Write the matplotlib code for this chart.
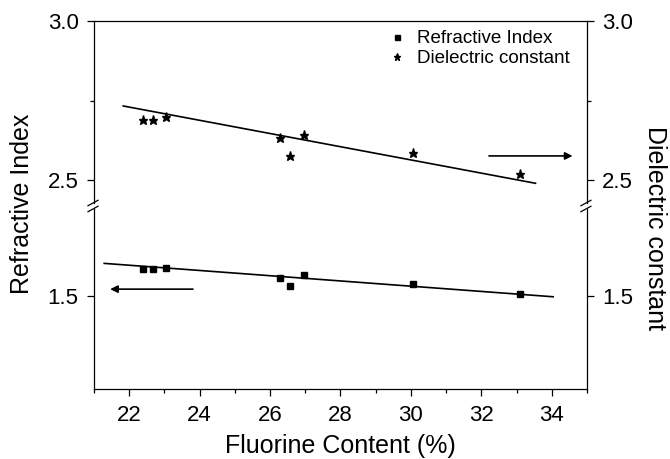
import matplotlib
matplotlib.use("Agg")
import matplotlib.pyplot as plt

plt.rcParams["font.family"] = ["Liberation Sans", "DejaVu Sans"]

# data
fluorine = [22.40, 22.67, 23.05, 26.27, 26.57, 26.97, 30.05, 33.09]
refractive_index = [1.584, 1.584, 1.590, 1.558, 1.532, 1.565, 1.537, 1.507]
dielectric_constant = [2.689, 2.689, 2.699, 2.631, 2.575, 2.642, 2.584, 2.519]

# fitted lines (end points)
fit_ri_x = [21.29, 34.04]
fit_ri_y = [1.603, 1.498]
fit_dk_x = [21.83, 33.54]
fit_dk_y = [2.733, 2.490]

x_ticks = [22, 24, 26, 28, 30, 32, 34]
top_ticks = [2.5, 3.0]
bottom_ticks = [1.5]

fig = plt.figure(figsize=(6.7, 4.59), dpi=100)
ax_top = fig.add_axes([0.1403, 0.5577, 0.7357, 0.3965])
ax_bot = fig.add_axes([0.1403, 0.1525, 0.7357, 0.3922])

ax_top.set_ylim(2.428, 3.0)
ax_bot.set_ylim(1.208, 1.774)
for ax in (ax_top, ax_bot):
    ax.set_xlim(21, 35)
    ax.set_xticks(x_ticks)
    ax.set_xticks(range(21, 36, 2), minor=True)
    for s in ax.spines.values():
        s.set_linewidth(0.9)
    ax.tick_params(which="both", direction="out", right=True, labelright=True,
                   labelsize=16, width=0.9, top=False)
    ax.tick_params(which="major", length=5)
    ax.tick_params(which="minor", length=3)
    ax.tick_params(axis="y", which="major", pad=6)
    ax.tick_params(axis="x", which="major", pad=6.5)

ax_top.set_yticks(top_ticks)
ax_top.set_yticks([2.75], minor=True)
ax_top.spines["bottom"].set_visible(False)
ax_top.tick_params(axis="x", which="both", bottom=False, labelbottom=False)

ax_bot.set_yticks(bottom_ticks)
ax_bot.set_yticks([], minor=True)
ax_bot.spines["top"].set_visible(False)

# data
ri_pts, = ax_bot.plot(fluorine, refractive_index, "s", color="black", markersize=4.5,
                      label="Refractive Index")
ax_bot.plot(fit_ri_x, fit_ri_y, color="black", lw=1.2)
dk_pts, = ax_top.plot(fluorine, dielectric_constant, "*", color="black", markersize=6.5,
                      label="Dielectric constant")
ax_top.plot(fit_dk_x, fit_dk_y, color="black", lw=1.2)

# arrows pointing to the respective axes
ax_bot.annotate("", xy=(21.38, 1.522), xytext=(23.89, 1.522),
                arrowprops=dict(arrowstyle="-|>", color="black", lw=1.2, mutation_scale=11))
ax_top.annotate("", xy=(34.67, 2.576), xytext=(32.14, 2.576),
                arrowprops=dict(arrowstyle="-|>", color="black", lw=1.2, mutation_scale=11))

# axis break marks
for xf in (0.1403, 0.1403 + 0.7357):
    for yf in (0.5577, 0.5447):
        fig.add_artist(plt.Line2D([xf - 0.009, xf + 0.006], [yf - 0.006, yf + 0.006],
                                  color="black", lw=0.9, transform=fig.transFigure))

ax_top.legend(handles=[ri_pts, dk_pts], loc="upper left", bbox_to_anchor=(0.595, 0.95),
              frameon=False, fontsize=13.5, handlelength=1.0, handletextpad=0.6,
              borderpad=0, borderaxespad=0, labelspacing=0.15, markerscale=0.8)

ax_bot.set_xlabel("Fluorine Content (%)", fontsize=18, labelpad=5.5)
fig.text(0.033, 0.556, "Refractive Index", rotation=90, fontsize=18,
         ha="center", va="center")
fig.text(0.978, 0.503, "Dielectric constant", rotation=-90, fontsize=18,
         ha="center", va="center")

fig.savefig("out.png", dpi=100)
